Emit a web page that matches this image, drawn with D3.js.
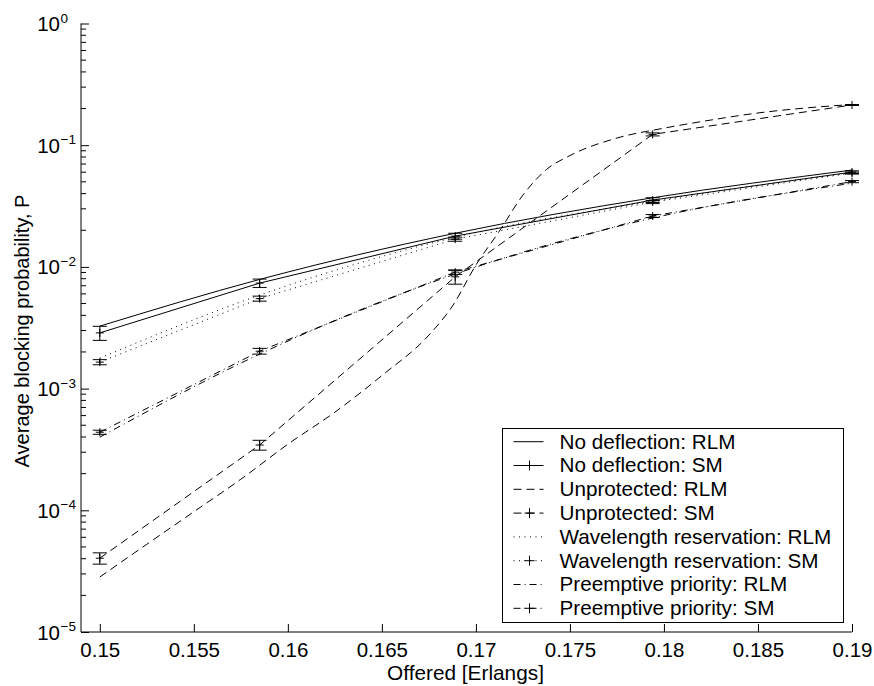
<!DOCTYPE html>
<html>
<head>
<meta charset="utf-8">
<script src="https://cdn.jsdelivr.net/npm/d3@7"></script>
<style>
  body { margin: 0; background: #fff; }
  svg, svg text { font-family: "Liberation Sans", Arial, Helvetica, sans-serif; }
</style>
</head>
<body>
<div class="chart"></div>
<script>
// offered load [Erlangs] where the simulations (SM) were run
const loadsSM = [0.15, 0.1585, 0.1689, 0.1794, 0.19];
// the unprotected RLM curve was computed on a finer grid
const loadsUnprotRLM = [0.15, 0.1525, 0.155, 0.1575, 0.16, 0.1625, 0.165, 0.1675, 0.16875, 0.17,
                        0.17125, 0.1725, 0.17375, 0.175, 0.1775, 0.18, 0.1825, 0.185, 0.1875, 0.19];

const noDeflRLM = [3.26e-3, 7.89e-3, 1.89e-2, 3.70e-2, 6.25e-2];
const noDeflSM  = [2.87e-3, 7.36e-3, 1.79e-2, 3.54e-2, 6.01e-2];
const noDeflErr = [0.38e-3, 0.58e-3, 1.0e-3, 1.6e-3, 1.5e-3];

const unprotRLM = [2.83e-5, 5.26e-5, 9.73e-5, 1.80e-4, 3.49e-4, 6.40e-4, 1.28e-3, 2.75e-3, 4.76e-3, 1.035e-2,
                   1.97e-2, 3.89e-2, 6.31e-2, 8.22e-2, 0.1145, 0.138, 0.161, 0.184, 0.202, 0.216];
const unprotSM  = [4.04e-5, 3.44e-4, 8.29e-3, 0.1227, 0.214];
const unprotErr = [0.43e-5, 0.32e-4, 1.08e-3, 3.5e-3, 2.0e-3];

const wrRLM = [1.78e-3, 5.86e-3, 1.75e-2, 3.47e-2, 5.96e-2];
const wrSM  = [1.65e-3, 5.49e-3, 1.69e-2, 3.41e-2, 5.90e-2];
const wrErr = [0.08e-3, 0.26e-3, 0.65e-3, 1.0e-3, 1.1e-3];

const ppRLM = [3.99e-4, 1.92e-3, 8.73e-3, 2.52e-2, 4.87e-2];
const ppSM  = [4.38e-4, 2.03e-3, 9.06e-3, 2.62e-2, 5.02e-2];
const ppErr = [0.17e-4, 0.11e-3, 0.38e-3, 0.75e-3, 1.0e-3];

const xTicks = [0.15, 0.155, 0.16, 0.165, 0.17, 0.175, 0.18, 0.185, 0.19];
const yExponents = [0, -1, -2, -3, -4, -5];

const series = [
    {name: "No deflection: RLM", x: loadsSM, y: noDeflRLM, dash: null, sm: false},
    {name: "No deflection: SM", x: loadsSM, y: noDeflSM, err: noDeflErr, dash: null, sm: true},
    {name: "Unprotected: RLM", x: loadsUnprotRLM, y: unprotRLM, dash: "8,5", sm: false},
    {name: "Unprotected: SM", x: loadsSM, y: unprotSM, err: unprotErr, dash: "8,5", sm: true},
    {name: "Wavelength reservation: RLM", x: loadsSM, y: wrRLM, dash: "1,4.5", sm: false},
    {name: "Wavelength reservation: SM", x: loadsSM, y: wrSM, err: wrErr, dash: "1,4.5", sm: true},
    {name: "Preemptive priority: RLM", x: loadsSM, y: ppRLM, dash: "7,4,1,4", sm: false},
    {name: "Preemptive priority: SM", x: loadsSM, y: ppSM, err: ppErr, dash: "7,4,1,4", sm: true}
];

const FONT = '"Liberation Sans", Arial, Helvetica, sans-serif';

var W = 874, H = 686;
var margin = {top: 23.5, right: 22, bottom: 54, left: 81};
var width = W - margin.left - margin.right,
    height = H - margin.top - margin.bottom;

const svg = d3.select(".chart").append("svg")
    .attr("width", W)
    .attr("height", H)
    .append("g")
    .attr("transform", "translate(" + margin.left + "," + margin.top + ")");

const xScale = d3.scaleLinear()
    .domain([0.149, 0.19])
    .range([0, width]);

const yScale = d3.scaleLog()
    .domain([1e-5, 1])
    .range([height, 0]);

// x axis: ticks point inward
const xAxis = d3.axisBottom(xScale)
    .tickValues(xTicks)
    .tickSize(-8)
    .tickPadding(10)
    .tickFormat(d3.format("~g"));

svg.append("g")
    .attr("class", "axis x-axis")
    .attr("transform", `translate(0, ${height})`)
    .call(xAxis)
    .call(g => g.select(".domain").attr("d", `M0,0H${width}`));

// y axis with log minor ticks
const minor = [];
for (let e = -5; e < 0; e++) for (let k = 2; k < 10; k++) minor.push(k * Math.pow(10, e));

const yAxis = d3.axisLeft(yScale)
    .tickValues(yExponents.map(e => Math.pow(10, e)))
    .tickSize(-8)
    .tickFormat("");

const yg = svg.append("g")
    .attr("class", "axis y-axis")
    .call(yAxis)
    .call(g => g.select(".domain").attr("d", `M0,${height}V0`));
yg.selectAll(".tick text").remove();

yg.selectAll(".minor")
    .data(minor)
    .enter().append("line")
    .attr("class", "minor")
    .attr("x1", 0).attr("x2", 5)
    .attr("y1", d => yScale(d)).attr("y2", d => yScale(d))
    .attr("stroke", "#000");

// 10^n labels
const ylab = yg.selectAll(".ylab")
    .data(yExponents)
    .enter().append("g")
    .attr("class", "ylab")
    .attr("transform", d => `translate(-21, ${yScale(Math.pow(10, d))})`);
ylab.append("text")
    .attr("text-anchor", "end")
    .attr("y", 7.5)
    .attr("font-size", 20.5)
    .text("10");
ylab.append("text")
    .attr("text-anchor", "start")
    .attr("x", 0.5)
    .attr("y", -1)
    .attr("font-size", 13.5)
    .text(d => d === 0 ? "0" : "\u2212" + (-d));

svg.selectAll(".axis").attr("font-family", FONT).attr("fill", "#000");
svg.selectAll(".axis path, .axis line")
    .attr("stroke", "#000")
    .attr("stroke-width", 1);
svg.selectAll(".axis text").attr("fill", "#000");
svg.selectAll(".x-axis text").attr("font-size", 20.5);

svg.append("text")
    .attr("x", width / 2 - 1)
    .attr("y", height + 48)
    .attr("text-anchor", "middle")
    .attr("font-size", 20.8)
    .text("Offered [Erlangs]");

svg.append("text")
    .attr("transform", `translate(${28.5 - margin.left}, ${331 - margin.top}) rotate(-90)`)
    .attr("text-anchor", "middle")
    .attr("font-size", 20)
    .text("Average blocking probability, P");

// curves
const plot = svg.append("g").attr("class", "plot");

series.forEach(s => {
    const pts = s.x.map((x, i) => ({x: x, y: s.y[i], e: s.err ? s.err[i] : 0}));
    const line = d3.line()
        .x(d => xScale(d.x))
        .y(d => yScale(d.y))
        .curve(s.sm ? d3.curveLinear : d3.curveMonotoneX);

    plot.append("path")
        .datum(pts)
        .attr("fill", "none")
        .attr("stroke", "#000")
        .attr("stroke-width", 1)
        .attr("stroke-dasharray", s.dash)
        .attr("d", line);

    if (s.sm) {
        const bars = plot.append("g").selectAll("g")
            .data(pts)
            .enter().append("g")
            .attr("transform", d => `translate(${xScale(d.x)},0)`);
        bars.append("path")
            .attr("fill", "none")
            .attr("stroke", "#000")
            .attr("stroke-width", 1)
            .attr("d", d => {
                const y0 = yScale(d.y + d.e), y1 = yScale(d.y - d.e);
                return `M-7,${y0}H7M0,${y0}V${y1}M-7,${y1}H7`;
            });
        bars.append("path")
            .attr("stroke", "#000")
            .attr("stroke-width", 1)
            .attr("d", d => `M-4,${yScale(d.y)}H4M0,${yScale(d.y) - 4}V${yScale(d.y) + 4}`);
    }
});

// legend
const lx = 502.5 - margin.left, ly = 428.5 - margin.top;
const legend = svg.append("g").attr("class", "legend");
legend.append("rect")
    .attr("x", lx).attr("y", ly)
    .attr("width", 341).attr("height", 194)
    .attr("fill", "#fff")
    .attr("stroke", "#000");

const item = legend.selectAll(".item")
    .data(series)
    .enter().append("g")
    .attr("class", "item")
    .attr("transform", (d, i) => `translate(${lx}, ${ly + 13.2 + i * 23.8})`);
item.append("line")
    .attr("x1", 11).attr("x2", 41)
    .attr("stroke", "#000")
    .attr("stroke-dasharray", d => d.dash);
item.filter(d => d.sm).append("path")
    .attr("stroke", "#000")
    .attr("d", "M22,0H32M27,-5V5");
item.append("text")
    .attr("x", 57)
    .attr("y", 6.8)
    .attr("font-size", 20.7)
    .text(d => d.name);
</script>
</body>
</html>
